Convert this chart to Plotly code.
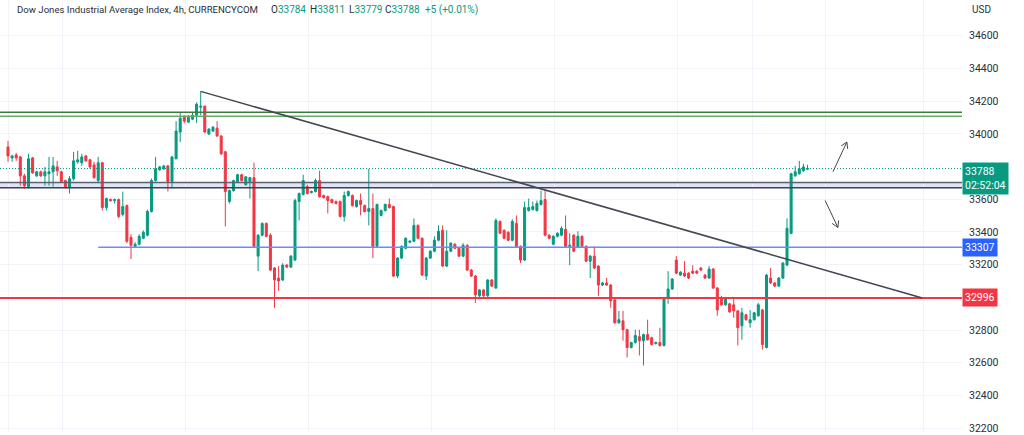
import plotly.graph_objects as go

# ---------------- data (4h candles) ----------------
opens = [
    33920, 33853, 33871, 33859, 33743, 33677, 33853, 33743, 33768, 33743,
    33756, 33768, 33798, 33768, 33714, 33671, 33726, 33829, 33823, 33865,
    33841, 33810, 33714, 33823, 33549, 33598, 33592, 33598, 33507, 33561,
    33367, 33312, 33325, 33361, 33380, 33525, 33714, 33780, 33786, 33804,
    33708, 33847, 34011, 34102, 34072, 34090, 34114, 34163, 34169, 33999,
    34017, 34035, 33987, 33890, 33586, 33653, 33708, 33750, 33689, 33708,
    33732, 33252, 33380, 33452, 33380, 33179, 33118, 33106, 33197, 33185,
    33228, 33586, 33629, 33677, 33641, 33647, 33714, 33623, 33616, 33598,
    33586, 33586, 33495, 33623, 33623, 33555, 33592, 33561, 33525, 33543,
    33312, 33501, 33531, 33568, 33555, 33130, 33240, 33300, 33337, 33343,
    33440, 33361, 33130, 33240, 33282, 33349, 33410, 33191, 33282, 33325,
    33300, 33252, 33318, 33167, 33130, 33009, 33045, 33009, 33106, 33057,
    33464, 33410, 33398, 33349, 33452, 33312, 33228, 33531, 33537, 33531,
    33568, 33598, 33380, 33325, 33373, 33380, 33416, 33312, 33380, 33306,
    33373, 33312, 33221, 33252, 33191, 33075, 33088, 33075, 32984, 32844,
    32856, 32802, 32693, 32723, 32759, 32735, 32772, 32753, 32717, 32723,
    32705, 32997, 33051, 33228, 33136, 33148, 33148, 33160, 33160, 33179,
    33136, 33118, 33173, 33057, 32997, 32954, 32960, 32954, 32917, 32826,
    32893, 32844, 32863, 32887, 32923, 32693, 33118, 33088, 33069, 33118,
    33197, 33391, 33743, 33756, 33774, 33784]
highs = [
    33957, 33871, 33884, 33865, 33756, 33878, 33859, 33774, 33774, 33798,
    33859, 33859, 33835, 33774, 33720, 33743, 33890, 33896, 33878, 33871,
    33847, 33829, 33859, 33829, 33610, 33604, 33604, 33604, 33647, 33568,
    33386, 33337, 33386, 33410, 33537, 33726, 33859, 33804, 33810, 33810,
    33865, 34078, 34132, 34114, 34114, 34132, 34193, 34260, 34175, 34035,
    34047, 34078, 33993, 33896, 33659, 33720, 33756, 33756, 33743, 33737,
    33823, 33386, 33458, 33458, 33392, 33185, 33191, 33209, 33203, 33258,
    33604, 33641, 33750, 33689, 33653, 33726, 33774, 33629, 33623, 33604,
    33592, 33592, 33647, 33653, 33629, 33598, 33635, 33568, 33786, 33635,
    33574, 33537, 33574, 33604, 33561, 33246, 33318, 33367, 33349, 33483,
    33446, 33367, 33246, 33288, 33373, 33440, 33440, 33410, 33337, 33331,
    33306, 33331, 33325, 33173, 33136, 33051, 33051, 33112, 33112, 33483,
    33470, 33416, 33404, 33477, 33501, 33318, 33586, 33604, 33586, 33592,
    33653, 33653, 33386, 33380, 33398, 33434, 33501, 33392, 33386, 33404,
    33380, 33318, 33258, 33312, 33197, 33094, 33118, 33081, 32990, 32917,
    32917, 32808, 32729, 32802, 32802, 32778, 32863, 32759, 32729, 32814,
    33003, 33160, 33118, 33252, 33160, 33221, 33154, 33197, 33167, 33185,
    33142, 33191, 33179, 33063, 33009, 33003, 32966, 32997, 32923, 32936,
    32899, 32923, 32911, 32966, 32929, 33142, 33179, 33094, 33124, 33215,
    33483, 33762, 33804, 33835, 33817, 33811]
lows = [
    33829, 33829, 33835, 33683, 33665, 33665, 33756, 33737, 33737, 33683,
    33683, 33677, 33743, 33702, 33665, 33635, 33714, 33817, 33804, 33829,
    33786, 33726, 33702, 33531, 33531, 33586, 33574, 33483, 33495, 33331,
    33234, 33306, 33318, 33355, 33373, 33519, 33708, 33774, 33780, 33647,
    33665, 33847, 33951, 34066, 34066, 34084, 34066, 34114, 34005, 33993,
    34011, 33981, 33871, 33434, 33574, 33647, 33702, 33708, 33683, 33604,
    33306, 33160, 33373, 33367, 33160, 32936, 33039, 33100, 33179, 33179,
    33221, 33470, 33623, 33629, 33635, 33641, 33610, 33604, 33513, 33574,
    33568, 33489, 33464, 33616, 33555, 33549, 33501, 33519, 33440, 33240,
    33306, 33495, 33525, 33543, 33124, 33118, 33234, 33294, 33331, 33337,
    33355, 33130, 33106, 33234, 33276, 33343, 33185, 33185, 33276, 33294,
    33246, 33246, 33160, 33124, 32966, 33003, 33003, 33003, 33063, 33051,
    33386, 33355, 33343, 33343, 33306, 33209, 33221, 33525, 33531, 33525,
    33561, 33373, 33355, 33318, 33367, 33373, 33306, 33197, 33276, 33300,
    33306, 33215, 33118, 33173, 33009, 33069, 33069, 32936, 32838, 32838,
    32735, 32632, 32687, 32717, 32644, 32583, 32735, 32705, 32711, 32699,
    32699, 32960, 33045, 33142, 33130, 33124, 33112, 33142, 33142, 33160,
    33112, 33112, 33051, 32887, 32948, 32948, 32905, 32875, 32705, 32741,
    32857, 32814, 32857, 32881, 32680, 32687, 33082, 33063, 33063, 33112,
    33191, 33386, 33737, 33750, 33768, 33779]
closes = [
    33865, 33865, 33853, 33743, 33683, 33847, 33762, 33768, 33743, 33768,
    33768, 33804, 33774, 33708, 33677, 33726, 33835, 33841, 33859, 33835,
    33798, 33732, 33823, 33549, 33604, 33592, 33598, 33495, 33555, 33343,
    33318, 33325, 33373, 33398, 33525, 33714, 33786, 33798, 33804, 33708,
    33859, 34017, 34096, 34078, 34102, 34114, 34181, 34169, 34011, 34029,
    34041, 33987, 33878, 33647, 33653, 33714, 33750, 33714, 33737, 33732,
    33312, 33380, 33452, 33373, 33167, 33106, 33100, 33197, 33185, 33252,
    33592, 33635, 33714, 33635, 33647, 33714, 33616, 33610, 33592, 33580,
    33574, 33495, 33623, 33647, 33561, 33592, 33568, 33525, 33543, 33312,
    33568, 33531, 33568, 33549, 33130, 33240, 33312, 33361, 33343, 33440,
    33361, 33136, 33240, 33282, 33349, 33404, 33191, 33282, 33331, 33300,
    33252, 33318, 33167, 33130, 33015, 33045, 33009, 33106, 33069, 33470,
    33392, 33361, 33349, 33464, 33312, 33228, 33549, 33549, 33555, 33574,
    33592, 33380, 33361, 33373, 33392, 33422, 33312, 33318, 33282, 33373,
    33312, 33221, 33252, 33179, 33075, 33088, 33075, 32978, 32844, 32863,
    32802, 32693, 32723, 32766, 32735, 32772, 32741, 32711, 32723, 32705,
    32997, 33051, 33112, 33148, 33154, 33130, 33118, 33148, 33148, 33167,
    33118, 33173, 33057, 32923, 32954, 32997, 32911, 32917, 32814, 32905,
    32863, 32863, 32905, 32954, 32711, 33136, 33088, 33069, 33118, 33209,
    33422, 33756, 33768, 33786, 33798, 33788]
bars = list(range(len(opens)))

# header values
title = "Dow Jones Industrial Average Index, 4h, CURRENCYCOM"
ohlc_labels = ["O", "H", "L", "C"]
ohlc_values = [33784, 33811, 33779, 33788]
change_text = "+5 (+0.01%)"

# drawn levels
level_green_hi = 34132
level_green_lo = 34108
zone_top = 33702
zone_bot = 33671
level_blue = 33307
level_red = 32996
last_price = 33788
countdown = "02:52:04"
# ticks shown (33800 and 33000 are hidden behind the price tags)
y_ticks = [32200, 32400, 32600, 32800, 33200, 33400, 33600, 34000, 34200, 34400, 34600]

# trendline & arrows (bar index, price)
trend = [(47, 34260), (223, 32996)]
arrow_up = [(201.2, 33768), (204.6, 33950), (203.2, 33926), (204.8, 33908)]
arrow_dn = [(199.3, 33592), (202.4, 33428), (202.6, 33470), (201.0, 33452)]

GREEN = "#089981"
RED = "#f23645"
BLUE = "#6b8cf6"
GRID = "#f0f3fa"
TXT = "#2a2e39"
FONT = "Roboto, Liberation Sans, sans-serif"

X0, X1 = -1.95, 232.68

fig = go.Figure(go.Candlestick(
    x=bars, open=opens, high=highs, low=lows, close=closes,
    increasing=dict(line=dict(color=GREEN, width=1), fillcolor=GREEN),
    decreasing=dict(line=dict(color=RED, width=1), fillcolor=RED),
    whiskerwidth=0, hoverinfo="skip", showlegend=False))

shapes = []
shapes.append(dict(type="rect", xref="paper", x0=0, x1=1, yref="y", y0=zone_bot, y1=zone_top,
                   fillcolor="#dfe5f6", line=dict(width=0), layer="below"))
for yv, c in [(zone_top, "#5d6170"), (zone_bot, "#3f434f")]:
    shapes.append(dict(type="line", xref="paper", x0=0, x1=1, yref="y", y0=yv, y1=yv,
                       line=dict(color=c, width=1.5)))
for yv, c in [(level_green_hi, "#3f7a3f"), (level_green_lo, "#6aa86a")]:
    shapes.append(dict(type="line", xref="paper", x0=0, x1=1, yref="y", y0=yv, y1=yv,
                       line=dict(color=c, width=1.5)))
shapes.append(dict(type="line", xref="x", x0=22, x1=240, yref="y", y0=level_blue, y1=level_blue,
                   line=dict(color=BLUE, width=1.5)))
shapes.append(dict(type="line", xref="paper", x0=0, x1=1, yref="y", y0=level_red, y1=level_red,
                   line=dict(color=RED, width=2)))
shapes.append(dict(type="line", xref="paper", x0=0, x1=1, yref="y", y0=last_price, y1=last_price,
                   line=dict(color=GREEN, width=1, dash="1px,2px")))
shapes.append(dict(type="line", xref="x", yref="y", x0=trend[0][0], y0=trend[0][1],
                   x1=trend[1][0], y1=trend[1][1], line=dict(color="#434651", width=1.5)))
for a in (arrow_up, arrow_dn):
    shapes.append(dict(type="line", xref="x", yref="y", x0=a[0][0], y0=a[0][1], x1=a[1][0], y1=a[1][1],
                       line=dict(color="#434651", width=1)))
    for h in a[2:]:
        shapes.append(dict(type="line", xref="x", yref="y", x0=a[1][0], y0=a[1][1], x1=h[0], y1=h[1],
                           line=dict(color="#434651", width=1)))

ann = []
PW = 962.0
def head(xpx, text, color=TXT, size=10):
    ann.append(dict(xref="paper", yref="paper", x=xpx / PW, y=1, xanchor="left", yanchor="top",
                    yshift=-2, text=text, showarrow=False, font=dict(family=FONT, size=size, color=color)))

head(15, title, size=9.6)
for xp, lab, val in zip([269, 308, 347, 383], ohlc_labels, ohlc_values):
    head(xp, "%s<span style='color:%s'>%d</span>" % (lab, GREEN, val))
head(423, change_text, GREEN)

ann.append(dict(xref="paper", yref="paper", x=1, y=1, xanchor="left", yanchor="top", xshift=8, yshift=-2,
                text="USD", showarrow=False, font=dict(family=FONT, size=10, color=TXT)))

def tag(yv, text, bg):
    ann.append(dict(xref="paper", yref="y", x=1, y=yv, xanchor="left", yanchor="middle",
                    text=text, showarrow=False, bgcolor=bg, borderpad=2,
                    font=dict(family=FONT, size=10.5, color="white"), align="left"))

ann.append(dict(xref="paper", yref="y", x=1, y=last_price, xanchor="left", yanchor="top", yshift=7,
                text="%d<br>%s" % (last_price, countdown), showarrow=False, bgcolor=GREEN, borderpad=2,
                font=dict(family=FONT, size=10.5, color="white"), align="left"))
tag(level_blue, "%d" % level_blue, "#2962ff")
tag(level_red, "%d" % level_red, RED)

fig.update_layout(
    width=1024, height=435, margin=dict(l=0, r=62, t=0, b=0),
    paper_bgcolor="white", plot_bgcolor="white",
    shapes=shapes, annotations=ann, showlegend=False,
    xaxis=dict(range=[X0, X1], rangeslider=dict(visible=False), showticklabels=False,
               tickvals=[0, 13.2, 43.4, 73.2, 103.4, 133.2, 163.2, 181.5, 199.5, 223.2],
               showgrid=True, gridcolor=GRID, zeroline=False, showline=False, ticks=""),
    yaxis=dict(side="right", range=[32176, 34819], tickvals=y_ticks, tickformat="d",
               showgrid=True, gridcolor=GRID, zeroline=False, showline=False, ticks="",
               ticklabelstandoff=6, ticklabeloverflow="allow",
               tickfont=dict(family=FONT, size=10.5, color=TXT)),
)

fig.write_html("out.html", config={"displayModeBar": False})
